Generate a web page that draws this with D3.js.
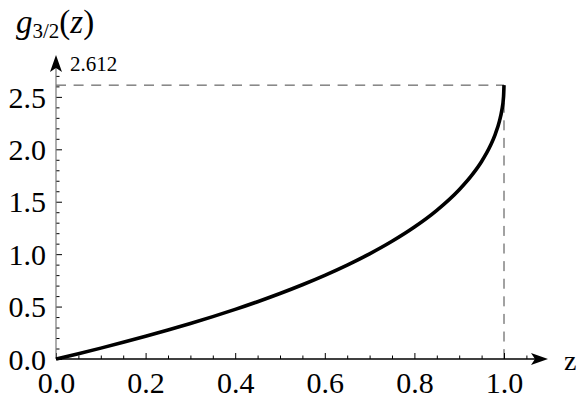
<!DOCTYPE html>
<html>
<head>
<meta charset="utf-8">
<script src="https://cdn.jsdelivr.net/npm/d3@7"></script>
<style>
  html, body { margin: 0; padding: 0; background: #fff; }
  svg { display: block; }
  text { font-family: "Liberation Serif", "Times New Roman", serif; fill: #000; }
</style>
</head>
<body>
<svg id="chart" width="579" height="396"></svg>
<script>
// Bose–Einstein function g_{3/2}(z) sampled on 0 <= z <= 1
const zValues = [0, 0.05, 0.1, 0.15, 0.2, 0.25, 0.3, 0.35, 0.4, 0.45, 0.5, 0.55, 0.6, 0.65,
                 0.7, 0.75, 0.8, 0.85, 0.9, 0.93, 0.95, 0.97, 0.98, 0.99, 0.995, 0.999, 1.0];
const gValues = [0, 0.0509, 0.1037, 0.1587, 0.2159, 0.2757, 0.3383, 0.4041, 0.4734, 0.5466, 0.6248, 0.7084, 0.7982, 0.8959,
                 1.0032, 1.1227, 1.2586, 1.4179, 1.6145, 1.7629, 1.8842, 2.0381, 2.1380, 2.2717, 2.3687, 2.5017, 2.612];

const xMajorTicks = [0, 0.2, 0.4, 0.6, 0.8, 1.0];
const xMinorTicks = [0.05, 0.1, 0.15, 0.25, 0.3, 0.35, 0.45, 0.5, 0.55, 0.65, 0.7, 0.75, 0.85, 0.9, 0.95, 1.05];
const yMajorTicks = [0, 0.5, 1.0, 1.5, 2.0, 2.5];
const yMinorTicks = [0.1, 0.2, 0.3, 0.4, 0.6, 0.7, 0.8, 0.9, 1.1, 1.2, 1.3, 1.4, 1.6, 1.7, 1.8, 1.9, 2.1, 2.2, 2.3, 2.4, 2.6, 2.7];
const criticalValue = 2.612;

const svg = d3.select("#chart");
const x = d3.scaleLinear().domain([0, 1]).range([56, 504]);
const y = d3.scaleLinear().domain([0, 2]).range([359, 149.3]);

const fmt = d3.format(".1f");

// dashed guides to the critical point (1, 2.612)
svg.append("line")
  .attr("x1", x(0)).attr("x2", x(1))
  .attr("y1", y(criticalValue)).attr("y2", y(criticalValue))
  .attr("stroke", "#444").attr("stroke-width", 1).attr("stroke-dasharray", "10,7.6");
svg.append("line")
  .attr("x1", x(1)).attr("x2", x(1))
  .attr("y1", y(criticalValue)).attr("y2", y(0))
  .attr("stroke", "#444").attr("stroke-width", 1).attr("stroke-dasharray", "10,7.6");

// x axis: ticks point up into the plot
const gx = svg.append("g").attr("transform", `translate(0,${y(0)})`);
gx.call(d3.axisBottom(x).tickValues(xMajorTicks).tickFormat(fmt).tickSize(-6).tickPadding(8));
gx.append("g").call(d3.axisBottom(x).tickValues(xMinorTicks).tickFormat("").tickSize(-3.5));
gx.selectAll(".domain").remove();
gx.selectAll("line").attr("stroke", "#000").attr("stroke-width", 1);
gx.selectAll("text").attr("font-size", 30).attr("font-family", "Liberation Serif").attr("dy", "0.86em");

// y axis: ticks point right into the plot
const gy = svg.append("g").attr("transform", `translate(${x(0)},0)`);
gy.call(d3.axisLeft(y).tickValues(yMajorTicks).tickFormat(fmt).tickSize(-6).tickPadding(10));
gy.append("g").call(d3.axisLeft(y).tickValues(yMinorTicks).tickFormat("").tickSize(-3.5));
gy.selectAll(".domain").remove();
gy.selectAll("line").attr("stroke", "#000").attr("stroke-width", 1);
gy.selectAll("text").attr("font-size", 30).attr("font-family", "Liberation Serif").attr("dy", "0.34em");

// axis lines with arrowheads
svg.append("line")
  .attr("x1", x(0)).attr("x2", 536).attr("y1", y(0)).attr("y2", y(0))
  .attr("stroke", "#000").attr("stroke-width", 1.5);
svg.append("line")
  .attr("x1", x(0)).attr("x2", x(0)).attr("y1", y(0)).attr("y2", 68)
  .attr("stroke", "#777").attr("stroke-width", 1.2);

const arrow = (tipX, tipY, dir) => {
  // dir: "right" or "up"
  const L = 17, W = 6, notch = 4;
  let pts;
  if (dir === "right") {
    pts = [[tipX, tipY], [tipX - L, tipY - W], [tipX - L + notch, tipY], [tipX - L, tipY + W]];
  } else {
    pts = [[tipX, tipY], [tipX - W, tipY + L], [tipX, tipY + L - notch], [tipX + W, tipY + L]];
  }
  svg.append("path").attr("d", d3.line()(pts) + "Z").attr("fill", "#000");
};
arrow(548, y(0), "right");
arrow(x(0), 55, "up");

// curve
const data = zValues.map((z, i) => ({ z, g: gValues[i] }));
svg.append("path")
  .datum(data)
  .attr("fill", "none")
  .attr("stroke", "#000")
  .attr("stroke-width", 3.6)
  .attr("stroke-linecap", "butt")
  .attr("d", d3.line().x(d => x(d.z)).y(d => y(d.g)).curve(d3.curveMonotoneX));

// labels
svg.append("text").attr("x", 70).attr("y", 71).attr("font-size", 21).text(d3.format(".3f")(criticalValue));
svg.append("text").attr("x", 564).attr("y", 370).attr("font-size", 28).text("z");

const title = svg.append("text").attr("x", 16).attr("y", 33).attr("font-size", 33);
title.append("tspan").attr("font-style", "italic").text("g");
title.append("tspan").attr("font-size", 21).attr("dy", 5).text("3/2");
title.append("tspan").attr("dy", -5).text("(");
title.append("tspan").attr("font-style", "italic").text("z");
title.append("tspan").text(")");
</script>
</body>
</html>
